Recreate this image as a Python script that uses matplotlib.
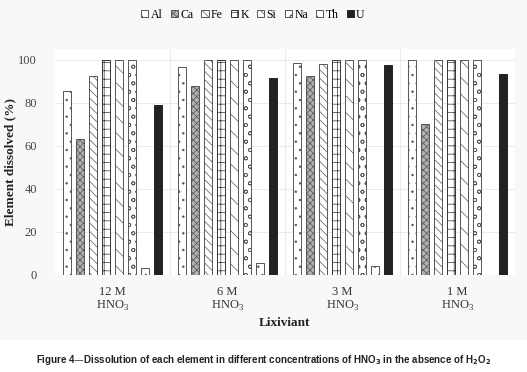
import numpy as np
import matplotlib
matplotlib.use("Agg")
import matplotlib.pyplot as plt
from matplotlib.patches import Rectangle

groups = ["12 M\nHNO$_3$", "6 M\nHNO$_3$", "3 M\nHNO$_3$", "1 M\nHNO$_3$"]
elements = ["Al", "Ca", "Fe", "K", "Si", "Na", "Th", "U"]
al = [85.7, 96.6, 98.4, 100]
ca = [63, 88, 92.5, 70]
fe = [92.5, 100, 98, 100]
k = [100, 100, 100, 100]
si = [100, 100, 100, 100]
na = [100, 100, 100, 100]
th = [3, 5.4, 4.3, 0]
u = [79, 91.5, 97.5, 93.5]
series = [al, ca, fe, k, si, na, th, u]

hatches = ["..", "xxxxx", "\\\\\\\\", "++", "\\\\", "oo", "..", None]
faces = ["white", "#b0b0b0", "white", "white", "white", "white", "white", "#222222"]
edges = ["#555555", "#555555", "#555555", "#333333", "#555555", "#555555", "#555555", "#222222"]

plt.rcParams["font.family"] = ["Liberation Serif", "DejaVu Serif"]
plt.rcParams["mathtext.fontset"] = "custom"
plt.rcParams["mathtext.rm"] = "Liberation Serif"
plt.rcParams["hatch.linewidth"] = 0.5

fig = plt.figure(figsize=(5.27, 3.72), dpi=100)
fig.patch.set_facecolor("white")
fig.add_artist(Rectangle((0, 0.085), 1, 0.915, transform=fig.transFigure,
                         facecolor="#f8f8f8", edgecolor="none", zorder=-10))
ax = fig.add_axes([0.104, 0.261, 0.873, 0.607])
ax.set_facecolor("white")

x = np.arange(len(groups))
slot = 0.113
width = 0.07
for i, (name, vals) in enumerate(zip(elements, series)):
    ax.bar(x + (i - 3.5) * slot, vals, width, label=name, color=faces[i],
           edgecolor=edges[i], hatch=hatches[i], linewidth=0.7, zorder=3)

ax.set_xlim(-0.5, len(groups) - 0.5)
ax.set_ylim(0, 105)
ax.set_yticks(range(0, 101, 20))
ax.set_xticks(x)
ax.set_xticklabels(groups, fontsize=9, color="#333333", linespacing=1.05)
ax.tick_params(axis="y", labelsize=9, colors="#444444", length=0, pad=13)
ax.tick_params(axis="x", length=0, pad=8)
for yv in range(20, 101, 20):
    ax.axhline(yv, color="#e6e6e6", linewidth=0.6, zorder=0)
for xv in np.arange(0.5, len(groups) - 0.5, 1):
    ax.axvline(xv, color="#e6e6e6", linewidth=0.6, zorder=0)
for s in ax.spines.values():
    s.set_visible(False)

ax.set_xlabel("Lixiviant", fontsize=9.5, fontweight="bold", color="#222222", labelpad=3)
ax.set_ylabel("Element dissolved (%)", fontsize=9.5, fontweight="bold", color="#222222")
ax.yaxis.set_label_coords(-0.083, 0.5)

fig.legend(loc="upper center", bbox_to_anchor=(0.48, 1.005), ncol=8, frameon=False,
           fontsize=8.5, handlelength=0.6, handleheight=0.6, handletextpad=0.2,
           columnspacing=0.7)

fig.text(0.5, 0.032,
         "Figure 4\u2014Dissolution of each element in different concentrations of HNO$_\\mathbf{3}$ in the absence of H$_\\mathbf{2}$O$_\\mathbf{2}$",
         ha="center", va="center", fontsize=7, fontweight="bold",
         family="Liberation Sans", color="#222222", math_fontfamily="dejavusans")

fig.savefig("out.png", dpi=100)
